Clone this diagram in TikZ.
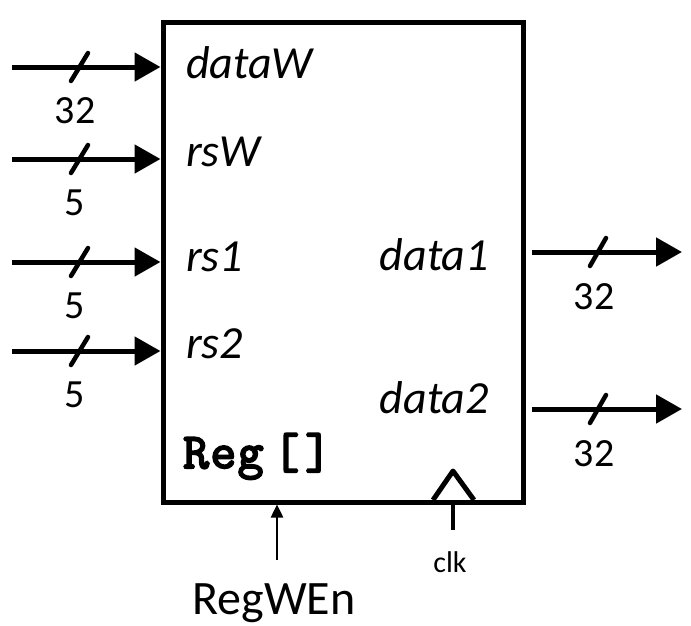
\documentclass[tikz,border=0pt]{standalone}
\usepackage{fontspec}
\setmainfont{Carlito}
\newfontfamily\codefont{Latin Modern Mono}[FakeBold=4, LetterSpace=3]
\usepackage{tikz}
\usetikzlibrary{arrows.meta, positioning}
\tikzstyle{regbox} = [rectangle, minimum width=360pt, minimum height=480pt, draw=black, line width=5pt, inner sep=0pt]
\tikzstyle{arrow} = [line width=5pt, -{Triangle[length=26pt,width=28pt]}]
\tikzstyle{thinarrow} = [line width=2.5pt, -{Triangle[length=13pt,width=12pt]}]
\tikzstyle{busslash} = [line width=4.5pt, line cap=round]
\tikzstyle{port} = [anchor=base west, inner sep=0pt, font=\fontsize{46}{46}\selectfont\itshape]
\tikzstyle{buswidth} = [anchor=base, inner sep=0pt, font=\fontsize{40}{40}\selectfont]

\begin{document}
\begin{tikzpicture}[x=1pt, y=-1pt]
    \useasboundingbox (0,0) rectangle (691,625);
    \node (Reg) [regbox] at (343,262) {};
    % ports inside the box
    \node (dataW) [port] at (186,78) {dataW};
    \node (rsW) [port] at (186,166) {rsW};
    \node (rsA) [port] at (186,271) {rs1};
    \node (rsB) [port] at (186,358) {rs2};
    \node (dataA) [port, anchor=base east] at (489,270) {data1};
    \node (dataB) [port, anchor=base east] at (489,413) {data2};
    \node (RegName) [anchor=base west, inner sep=0pt, font=\fontsize{50}{50}\codefont] at (183,468) {Reg\hspace{10pt}[\hspace{6pt}]};
    % inputs
    \foreach \y/\w/\n in {67/32/inW, 159/5/inS, 262/5/inA, 351/5/inB} {
        \coordinate (\n) at (12,\y);
        \draw [arrow] (\n) -- (\n -| Reg.west);
        \draw [busslash] (71,\y+14) -- (88,\y-14);
        \node (\n w) [buswidth] at (75,\y+56) {\w};
    }
    % outputs
    \foreach \y/\n in {252/outA, 409/outB} {
        \coordinate (\n) at (682,\y);
        \draw [arrow] (\n -| Reg.east) ++(6,0) -- (\n);
        \draw [busslash] (590,\y+14) -- (606,\y-14);
        \node (\n w) [buswidth] at (594,\y+57) {32};
    }
    % write enable
    \node (RegWEn) [buswidth, font=\fontsize{48}{48}\selectfont] at (274,614) {RegWEn};
    \coordinate (wen) at (277,560);
    \draw [thinarrow] (wen) -- (wen |- Reg.south);
    % clock
    \draw [line width=5pt, line join=round] (433,500) -- (453,471) -- (474,500);
    \node (clk) [buswidth, font=\fontsize{30}{30}\selectfont] at (450,572) {clk};
    \coordinate (clkin) at (453,530);
    \draw [line width=4pt] (clkin) -- (clkin |- Reg.south);
\end{tikzpicture}
\end{document}
